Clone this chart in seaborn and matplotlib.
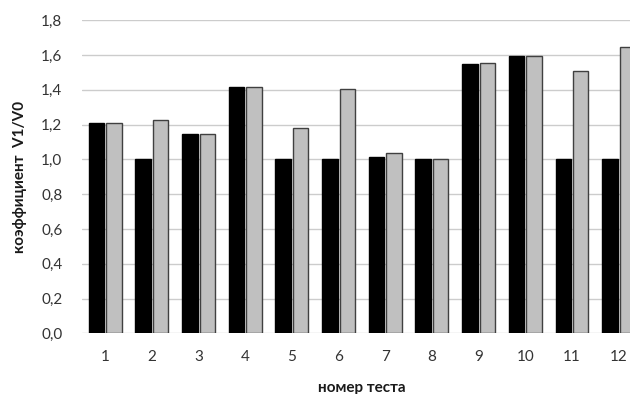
import numpy as np
import pandas as pd
import seaborn as sns
import matplotlib
matplotlib.use("Agg")
import matplotlib.pyplot as plt
from matplotlib.ticker import FuncFormatter

# test numbers and the two coefficient series
tests = [str(i) for i in range(1, 13)]
black_vals = [1.21, 1.00, 1.145, 1.415, 1.00, 1.00, 1.015, 1.00, 1.55, 1.595, 1.00, 1.00]
gray_vals = [1.21, 1.225, 1.145, 1.413, 1.18, 1.405, 1.035, 1.00, 1.553, 1.593, 1.505, 1.645]
series = ["a", "b"]

df = pd.DataFrame({
    "test": tests * 2,
    "value": black_vals + gray_vals,
    "series": [series[0]] * len(tests) + [series[1]] * len(tests),
})

sns.set_style("white")
plt.rcParams["font.family"] = ["Lato", "DejaVu Sans"]

fig = plt.figure(figsize=(6.3, 3.94), dpi=100)
ax = fig.add_axes([0.130, 0.154, 0.889, 0.795])

sns.barplot(data=df, x="test", y="value", hue="series", order=tests,
            palette=["#000000", "#c0c0c0"], width=0.75, gap=0.12,
            legend=False, ax=ax, zorder=3)

# edge colours: black for black bars, dark grey for grey bars
for patch in ax.patches:
    fc = patch.get_facecolor()
    if fc[0] < 0.1:
        patch.set_edgecolor("#000000")
    else:
        patch.set_edgecolor("#404040")
    patch.set_linewidth(1.0)

ax.set_ylim(0, 1.8)
ax.set_xlim(-0.5, 11.5)
ax.set_yticks(np.arange(0, 1.81, 0.2))
ax.yaxis.set_major_formatter(FuncFormatter(lambda v, p: ("%.1f" % v).replace(".", ",")))
ax.grid(axis="y", color="#cccccc", linewidth=1.0, zorder=0)
ax.set_axisbelow(True)
for s in ax.spines.values():
    s.set_visible(False)
ax.tick_params(axis="both", length=0, labelsize=11, colors="#333333")
ax.tick_params(axis="x", pad=12)
ax.tick_params(axis="y", pad=14)

ax.set_xlabel("номер теста", fontsize=11, fontweight="bold", color="#1a1a1a", labelpad=12)
ax.set_ylabel("коэффициент  V1/V0", fontsize=11, fontweight="bold", color="#1a1a1a", labelpad=10)

fig.savefig("out.png", dpi=100)
